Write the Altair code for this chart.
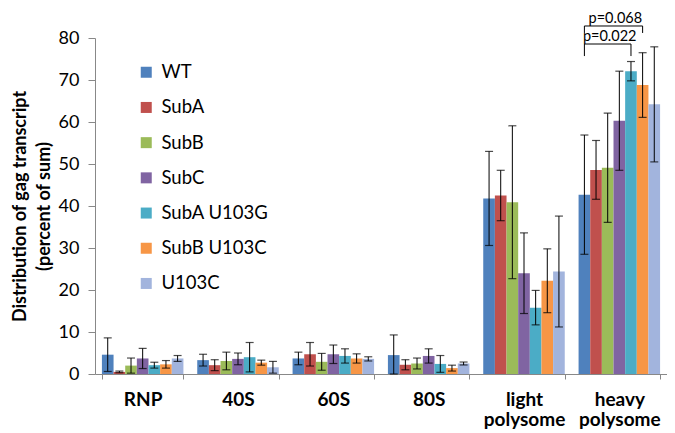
import altair as alt
import pandas as pd

categories = ["RNP", "40S", "60S", "80S", "light polysome", "heavy polysome"]
series = ["WT", "SubA", "SubB", "SubC", "SubA U103G", "SubB U103C", "U103C"]
colors = ["#4F81BD", "#C0504D", "#9BBB59", "#8064A2", "#4BACC6", "#F79646", "#A2B4DD"]

means = {
    "WT":         [4.6, 3.3, 3.7, 4.5, 41.8, 42.7],
    "SubA":       [0.5, 2.1, 4.7, 2.2, 42.5, 48.6],
    "SubB":       [2.0, 3.1, 2.9, 2.5, 40.9, 49.1],
    "SubC":       [3.7, 3.6, 4.7, 4.3, 24.0, 60.3],
    "SubA U103G": [2.1, 4.0, 4.3, 2.4, 15.8, 72.1],
    "SubB U103C": [2.3, 2.7, 3.7, 1.4, 22.2, 68.8],
    "U103C":      [3.7, 1.6, 3.6, 2.5, 24.4, 64.2],
}
errors = {
    "WT":         [4.0, 1.4, 1.5, 4.8, 11.2, 14.2],
    "SubA":       [0.2, 1.3, 2.8, 1.2, 6.0, 7.0],
    "SubB":       [1.8, 2.1, 2.0, 1.3, 18.2, 13.0],
    "SubC":       [2.4, 1.4, 2.2, 1.7, 9.6, 11.8],
    "SubA U103G": [0.7, 3.5, 1.7, 2.0, 4.1, 2.3],
    "SubB U103C": [0.9, 0.6, 1.1, 0.7, 7.6, 7.7],
    "U103C":      [0.7, 1.4, 0.5, 0.35, 13.2, 13.7],
}

# significance brackets (heavy polysome)
bracket_labels = ["p=0.068", "p=0.022"]
bracket_from = ["WT", "WT"]
bracket_to = ["SubB U103C", "SubA U103G"]
bracket_top = [82.86, 78.57]
bracket_leg = [81.2, 75.7]
bracket_text_at = ["SubC", "SubB"]
bracket_text_y = [83.57, 79.29]
bracket_text_dx = [-4, 2]

rows = []
for s in series:
    for c, m, e in zip(categories, means[s], errors[s]):
        rows.append({"category": c, "series": s, "value": m,
                     "lo": max(m - e, 0), "hi": m + e})
df = pd.DataFrame(rows)

brows = []
for i, lab in enumerate(bracket_labels):
    pts = [(bracket_from[i], bracket_leg[i]), (bracket_from[i], bracket_top[i]),
           (bracket_to[i], bracket_top[i]), (bracket_to[i], bracket_leg[i])]
    for k, (s, y) in enumerate(pts):
        brows.append({"category": "heavy polysome", "series": s, "y": y,
                      "bracket": lab, "k": k})
bdf = pd.DataFrame(brows)

FONT = "Lato"

x_enc = alt.X("category:N", sort=categories,
              scale=alt.Scale(paddingInner=0.145, paddingOuter=0.0725),
              axis=alt.Axis(title=None, labelAngle=0, tickBand="extent",
                            labelExpr="split(datum.label, ' ')",
                            labelFontSize=19, labelFontWeight="bold",
                            labelColor="black", labelLineHeight=20,
                            labelPadding=11, tickSize=5,
                            domainColor="#888888", tickColor="#888888"))
xo_enc = alt.XOffset("series:N", sort=series)
y_scale = alt.Scale(domain=[0, 80], nice=False)

bars = alt.Chart(df).mark_bar().encode(
    x=x_enc,
    xOffset=xo_enc,
    y=alt.Y("value:Q", scale=y_scale,
            axis=alt.Axis(title=["Distribution of gag transcript", "(percent of sum)"],
                          values=list(range(0, 81, 10)), grid=False,
                          labelFontSize=18, labelColor="black", labelPadding=9,
                          tickSize=7, domainColor="#888888", tickColor="#888888",
                          titleFontSize=18, titleFontWeight="bold",
                          titleColor="black", titlePadding=5, titleLineHeight=24)),
    color=alt.Color("series:N", sort=series,
                    scale=alt.Scale(domain=series, range=colors),
                    legend=alt.Legend(title=None, orient="none", legendX=42,
                                      legendY=25, symbolType="square",
                                      symbolSize=121, symbolStrokeWidth=0,
                                      labelFontSize=18.5, labelColor="black",
                                      labelOffset=6, rowPadding=16.2, padding=0)),
)

rules = alt.Chart(df).mark_rule(color="black", strokeWidth=1).encode(
    x=alt.X("category:N", sort=categories), xOffset=xo_enc,
    y=alt.Y("lo:Q", scale=y_scale), y2="hi:Q")
cap_hi = alt.Chart(df).mark_tick(color="black", size=8, thickness=1.2).encode(
    x=alt.X("category:N", sort=categories), xOffset=xo_enc,
    y=alt.Y("hi:Q", scale=y_scale))
cap_lo = alt.Chart(df).mark_tick(color="black", size=8, thickness=1.2).encode(
    x=alt.X("category:N", sort=categories), xOffset=xo_enc,
    y=alt.Y("lo:Q", scale=y_scale))

brackets = alt.Chart(bdf).mark_line(color="black", strokeWidth=1).encode(
    x=alt.X("category:N", sort=categories), xOffset=xo_enc,
    y=alt.Y("y:Q", scale=y_scale), detail="bracket:N", order="k:Q")

text_layers = []
for i, lab in enumerate(bracket_labels):
    tdf = pd.DataFrame({"category": ["heavy polysome"], "series": [bracket_text_at[i]],
                        "y": [bracket_text_y[i]], "label": [lab]})
    text_layers.append(
        alt.Chart(tdf).mark_text(fontSize=14.5, color="black", baseline="alphabetic",
                                 align="center", dx=bracket_text_dx[i]).encode(
            x=alt.X("category:N", sort=categories), xOffset=xo_enc,
            y=alt.Y("y:Q", scale=y_scale), text="label:N"))

chart = alt.layer(bars, rules, cap_hi, cap_lo, brackets, *text_layers).properties(
    width=572, height=336,
    autosize=alt.AutoSizeParams(type="none"),
    padding={"left": 87, "top": 30, "right": 0, "bottom": 59},
).configure(font=FONT).configure_view(stroke=None)

chart.save("out.html", embed_options={"renderer": "svg", "actions": False})
